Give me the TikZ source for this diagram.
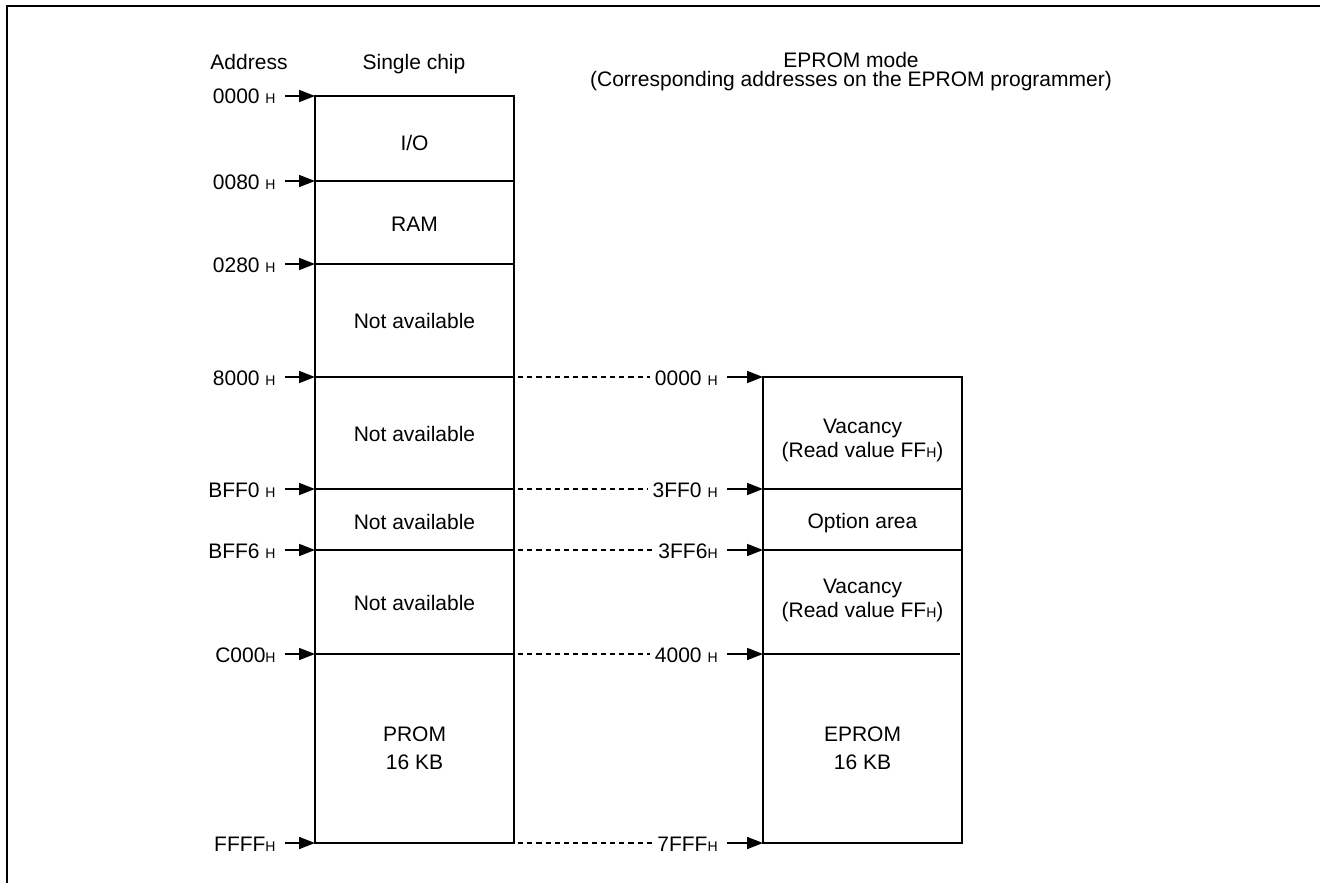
\documentclass[tikz,border=0pt]{standalone}
\usepackage{fontspec}
\setmainfont{Liberation Sans}
\usetikzlibrary{arrows.meta}
\newcommand\hsub{{\fontsize{7}{8}\selectfont H}}
\begin{document}
\begin{tikzpicture}[x=0.5pt,y=-0.5pt,
  txt/.style={font=\fontsize{10.5}{12}\selectfont, inner sep=0pt, anchor=base},
  addr/.style={font=\fontsize{10.5}{12}\selectfont, inner sep=0pt, anchor=base east},
  outer/.style={line width=1.3pt},
  divider/.style={line width=0.7pt},
  frameline/.style={line width=1.1pt},
  addrarrow/.style={line width=0.8pt, -{Triangle[length=8pt,width=6pt]}, shorten <=4.5pt},
  guide/.style={line width=0.6pt, dash pattern=on 2.6pt off 2pt, shorten <=2pt, shorten >=2.5pt}
]
\useasboundingbox (0,0) rectangle (1320,883);
\draw[frameline] (7,883) -- (7,6) -- (1320,6);

% headers
\node[txt] (haddr) at (249,69) {Address};
\node[txt] (hsingle) at (414,69) {Single chip};
\node[txt] (hmode) at (851,68) {EPROM mode};
\node[txt] (hmode2) at (851,87) {(Corresponding addresses on the EPROM programmer)};

% single chip map
\coordinate (l0) at (315,96);
\coordinate (l7) at (315,843);
\coordinate (m0) at (514,96);
\coordinate (m7) at (514,843);
\draw[outer] (l0) rectangle (m7);
\draw[divider] (315,181) coordinate (l1) -- (514,181) coordinate (m1);
\draw[divider] (315,264) coordinate (l2) -- (514,264) coordinate (m2);
\draw[divider] (315,377) coordinate (l3) -- (514,377) coordinate (m3);
\draw[divider] (315,489) coordinate (l4) -- (514,489) coordinate (m4);
\draw[divider] (315,550) coordinate (l5) -- (514,550) coordinate (m5);
\draw[divider] (315,654) coordinate (l6) -- (514,654) coordinate (m6);

\node[txt] (io) at (414.5,150.5) {I/O};
\node[txt] (ram) at (414.5,231) {RAM};
\node[txt] (na1) at (414.5,328) {Not available};
\node[txt] (na2) at (414.5,441) {Not available};
\node[txt] (na3) at (414.5,529.5) {Not available};
\node[txt] (na4) at (414.5,610.5) {Not available};
\node[txt] (prom1) at (414.5,741) {PROM};
\node[txt] (prom2) at (414.5,769) {16 KB};

% left addresses
\node[addr] (a0) at (276,104) {0000 \hsub};
\node[addr] (a1) at (276,189) {0080 \hsub};
\node[addr] (a2) at (276,272) {0280 \hsub};
\node[addr] (a3) at (276,385) {8000 \hsub};
\node[addr] (a4) at (276,497) {BFF0 \hsub};
\node[addr] (a5) at (276,558) {BFF6 \hsub};
\node[addr] (a6) at (276,662) {C000\hsub};
\node[addr] (a7) at (276,851) {FFFF\hsub};
\foreach \i in {0,...,7}{
  \draw[addrarrow] (a\i.east |- l\i) -- (l\i);
}

% EPROM map
\coordinate (r0) at (763,377);
\coordinate (s4) at (962,843);
\draw[outer] (r0) rectangle (s4);
\draw[divider] (763,489) coordinate (r1) -- (962,489);
\draw[divider] (763,550) coordinate (r2) -- (962,550);
\draw[divider] (763,654) coordinate (r3) -- (960,654);
\coordinate (r4) at (763,843);

\node[txt] (vac1) at (862.5,433) {Vacancy};
\node[txt] (rv1) at (862.5,457) {(Read value FF\hsub)};
\node[txt] (opt) at (862.5,528) {Option area};
\node[txt] (vac2) at (862.5,593) {Vacancy};
\node[txt] (rv2) at (862.5,617) {(Read value FF\hsub)};
\node[txt] (eprom1) at (862.5,741) {EPROM};
\node[txt] (eprom2) at (862.5,769) {16 KB};

% right addresses
\node[addr] (b0) at (718,385) {0000 \hsub};
\node[addr] (b1) at (718,497) {3FF0 \hsub};
\node[addr] (b2) at (718,558) {3FF6\hsub};
\node[addr] (b3) at (718,662) {4000 \hsub};
\node[addr] (b4) at (718,851) {7FFF\hsub};
\foreach \i in {0,...,4}{
  \draw[addrarrow] (b\i.east |- r\i) -- (r\i);
}

% correspondence guides
\draw[guide] (m3) -- (b0.west |- m3);
\draw[guide] (m4) -- (b1.west |- m4);
\draw[guide] (m5) -- (b2.west |- m5);
\draw[guide] (m6) -- (b3.west |- m6);
\draw[guide] (m7) -- (b4.west |- m7);
\end{tikzpicture}
\end{document}
